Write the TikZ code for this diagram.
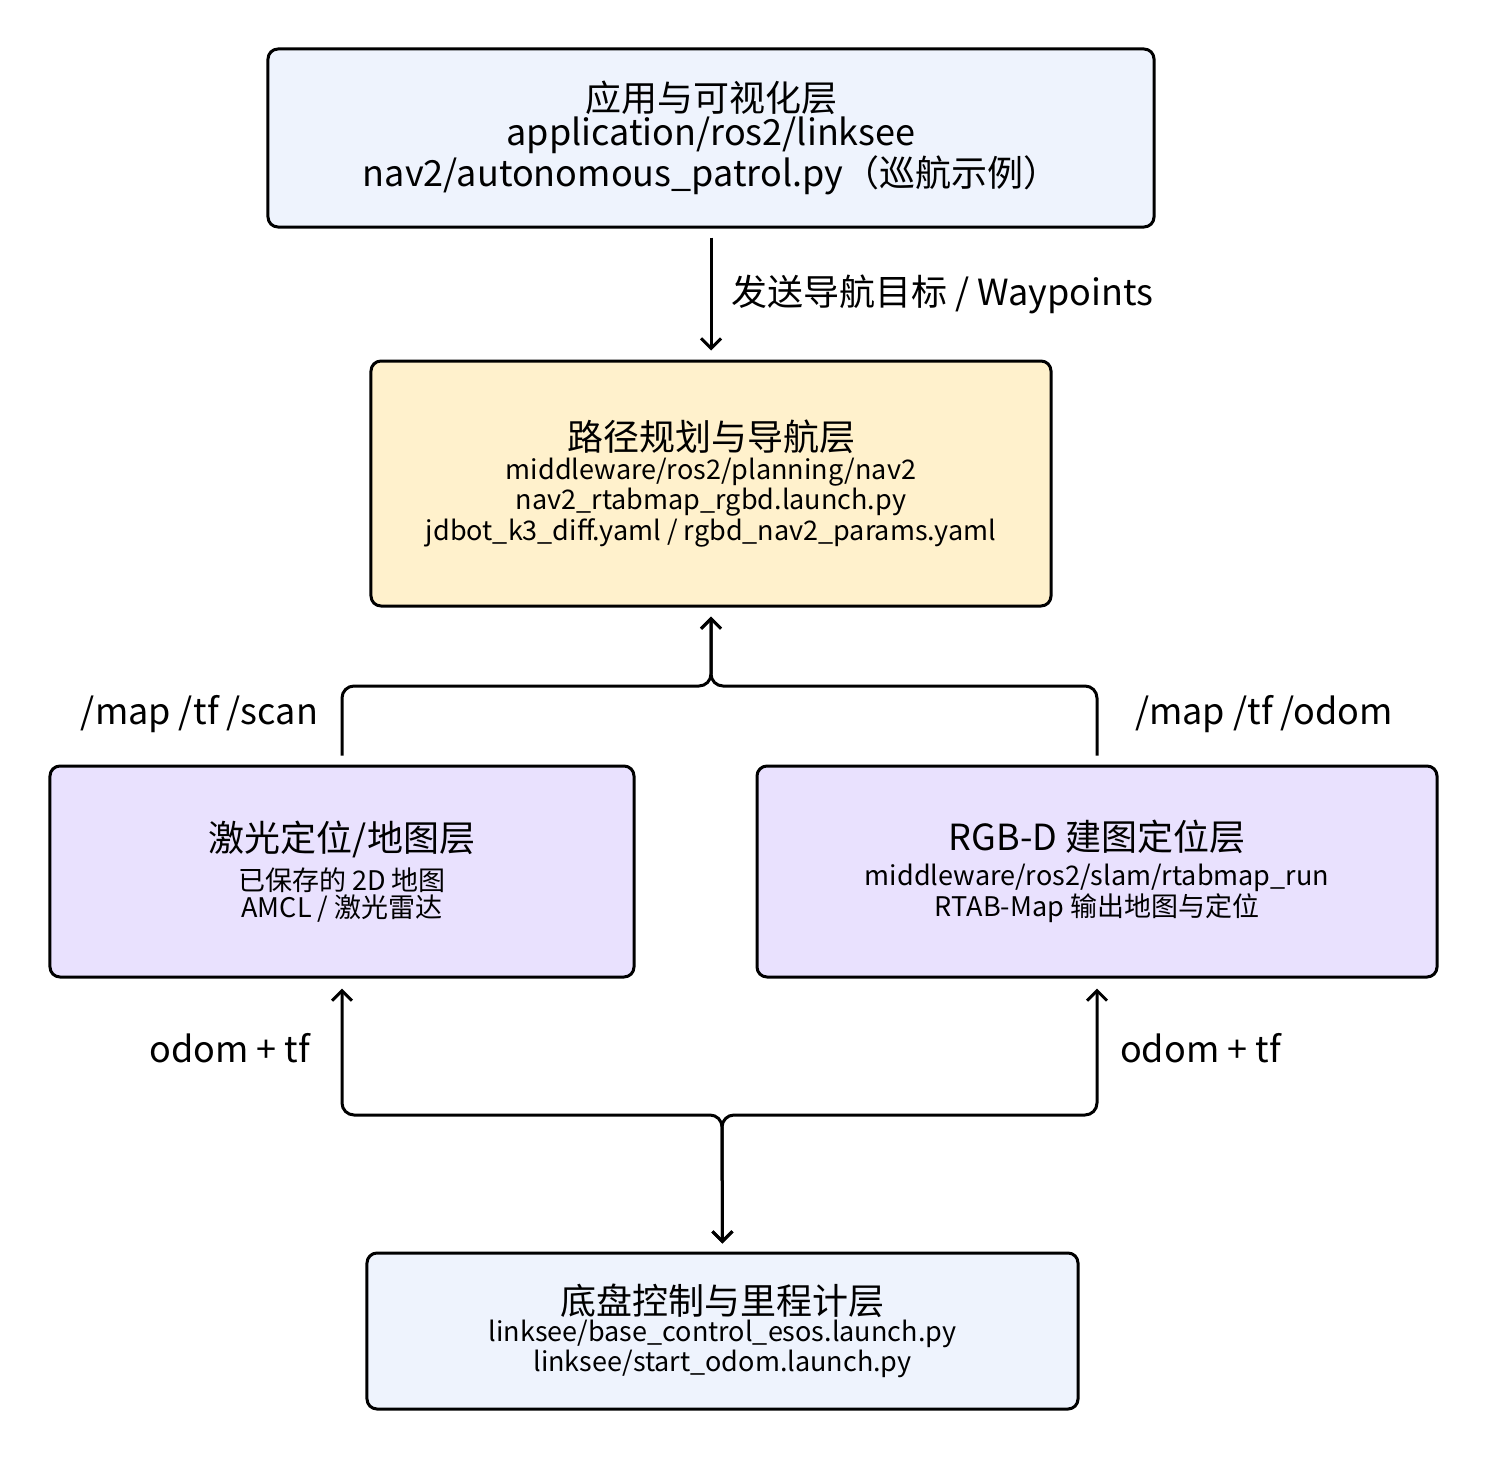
\documentclass[tikz,border=0pt]{standalone}
\usepackage{fontspec}
\setmainfont{Noto Sans CJK SC}
\usetikzlibrary{arrows.meta,positioning}
\definecolor{appblue}{HTML}{EEF3FD}
\definecolor{navyellow}{HTML}{FFF1CC}
\definecolor{slampurple}{HTML}{E9E1FE}
\tikzset{
  layer/.style={draw,line width=1.5bp,rounded corners=5bp,align=center,inner sep=0pt},
  flow/.style={line width=1.5bp,rounded corners=6bp,-{Straight Barb[length=5bp,width=10bp]}},
  flowboth/.style={flow,{Straight Barb[length=5bp,width=10bp]}-{Straight Barb[length=5bp,width=10bp]}},
  lbl/.style={font=\fontsize{18bp}{22bp}\selectfont},
}
\newcommand{\ttl}{\fontsize{18bp}{26bp}\selectfont}
\newcommand{\sml}{\fontsize{13.5bp}{20.5bp}\selectfont}
\begin{document}
\begin{tikzpicture}[x=0.5bp,y=-0.5bp]
\useasboundingbox (0,0) rectangle (1487,1459);

% layers
\node (App) at (711,138)[layer,fill=appblue,minimum width=443bp,minimum height=89bp]
  {\ttl 应用与可视化层\\ \ttl application/ros2/linksee\\ \ttl nav2/autonomous\_patrol.py（巡航示例）};
\node (Nav) at (711,483.5)[layer,fill=navyellow,minimum width=340bp,minimum height=122.5bp]
  {\ttl 路径规划与导航层\\[1bp] \sml middleware/ros2/planning/nav2\\ \sml nav2\_rtabmap\_rgbd.launch.py\\ \sml jdbot\_k3\_diff.yaml / rgbd\_nav2\_params.yaml};
\node (Laser) at (342,871.5)[layer,fill=slampurple,minimum width=292bp,minimum height=105.5bp]
  {\ttl 激光定位/地图层\\[4bp] \sml 已保存的 2D 地图\\ \sml AMCL / 激光雷达};
\node (Rgbd) at (1097,871.5)[layer,fill=slampurple,minimum width=340bp,minimum height=105.5bp]
  {\ttl RGB-D 建图定位层\\[4bp] \sml middleware/ros2/slam/rtabmap\_run\\ \sml RTAB-Map 输出地图与定位};
\node (Base) at (722.5,1331)[layer,fill=appblue,minimum width=355.5bp,minimum height=78bp]
  {\ttl 底盘控制与里程计层\\ \sml linksee/base\_control\_esos.launch.py\\ \sml linksee/start\_odom.launch.py};

% junctions
\coordinate (MergeN) at (711,686);
\coordinate (SplitS) at (722,1115);

% connectors
\draw [flow,shorten <=4.5bp,shorten >=4.5bp] (App) -- node[lbl,right=6bp] {发送导航目标 / Waypoints} (Nav);
\draw [flow,shorten <=4.5bp,shorten >=4.5bp] (Laser.north) |- (MergeN) -- (Nav.south);
\draw [flow,shorten <=4.5bp,shorten >=4.5bp] (Rgbd.north) |- (MergeN) -- (Nav.south);
\draw [flowboth,shorten <=4bp,shorten >=5bp] (Base.north) -- (SplitS) -| (Laser.south);
\draw [flowboth,shorten <=4bp,shorten >=5bp] (Base.north) -- (SplitS) -| (Rgbd.south);

% labels
\node (ScanLbl) at (325,714)[lbl,anchor=east] {/map /tf /scan};
\node (OdomLbl) at (1128,714)[lbl,anchor=west] {/map /tf /odom};
\node (LaserOdom) at (317,1048)[lbl,anchor=east] {odom + tf};
\node (RgbdOdom) at (1113,1048)[lbl,anchor=west] {odom + tf};
\end{tikzpicture}
\end{document}
